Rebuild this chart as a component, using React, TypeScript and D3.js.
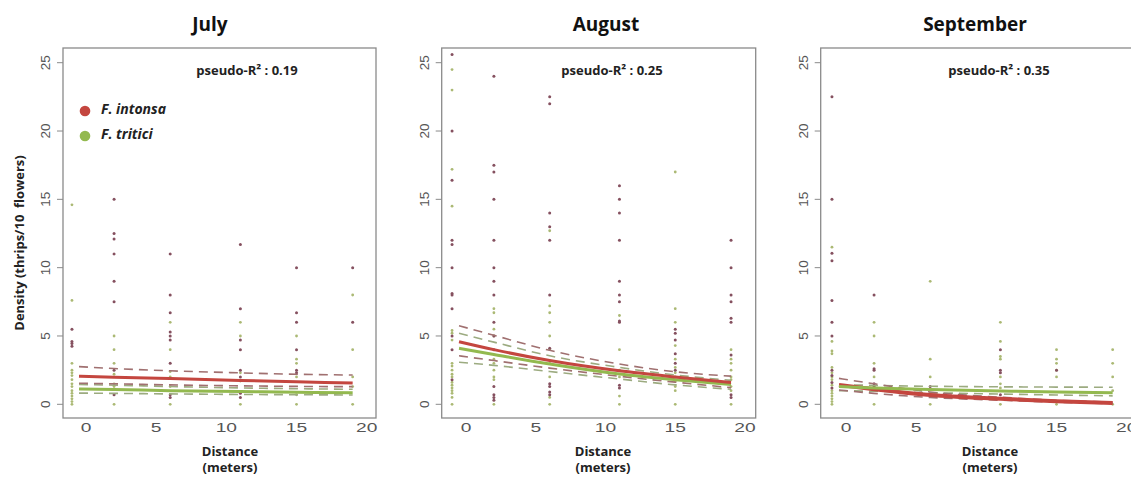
import React from "react";
import * as d3 from "d3";

// ---------- DATA ----------
const distances = [-1, 2, 6, 11, 15, 19];
const yTicks = [0, 5, 10, 15, 20, 25];
const xTicks = [0, 5, 10, 15, 20];
const months = ["July", "August", "September"];
const pseudoR2 = ["0.19", "0.25", "0.35"];
const species = ["F. intonsa", "F. tritici"];

// observed densities per distance (index matches `distances`)
const julyIntonsa = [
  [5.5, 4.6, 4.45, 4.25],
  [15, 12.5, 12.1, 11, 9, 7.5, 2.5, 0.7],
  [11, 8, 6.7, 5.3, 5, 4.7, 3, 0.7, 0.5],
  [11.7, 7, 4.7, 4, 2.5, 2, 0.8, 0.5],
  [10, 6.7, 6, 4, 2.5, 2.3],
  [10, 6],
];
const julyTritici = [
  [14.6, 7.6, 3, 2.5, 2.3, 2.1, 1.8, 1.5, 1.3, 1.0, 0.8, 0.6, 0.4, 0.2, 0],
  [5, 4, 3, 2.2, 1.5, 1.3, 0],
  [6, 4, 2.4, 2, 1.3, 0],
  [6, 5, 2.3, 1.7, 0],
  [5, 3.3, 3, 2, 0.7, 0],
  [8, 4, 2, 1.3, 0],
];
const augustIntonsa = [
  [25.6, 20, 16.4, 12, 11.7, 10, 8.1, 8, 7, 5, 4, 1.8],
  [24, 17.5, 17, 15, 12, 10, 9, 8, 6, 5, 4, 1.3, 0.7, 0.5, 0.3],
  [22.5, 22, 14, 13, 12, 8, 4.1, 1.5, 1.3, 0.9, 0.7],
  [16, 15, 14, 12, 9, 8, 7.5, 6.1, 6, 1.4, 1.2],
  [5.5, 5.2, 4.7, 3.7, 3, 2.5],
  [12, 10, 8, 7.5, 6.3, 6, 3.6, 0.7, 0.5],
];
const augustTritici = [
  [24.5, 23, 17.2, 14.5, 5.4, 5.2, 4.7, 3, 2.8, 2.5, 2.2, 2, 1.6, 1.4, 1.2, 1, 0.8, 0.5, 0],
  [7, 6.7, 5.5, 5, 3.3, 3, 2.5, 2, 1.8, 0],
  [12.7, 7.2, 6.7, 6, 5, 4, 3, 2, 0.5, 0],
  [6.5, 4, 2.5, 2, 0.6, 0],
  [17, 7, 6, 4.3, 3.3, 2.7, 2.3, 2, 1.7, 1.3, 1, 0],
  [4, 3.3, 3, 2.5, 2, 1.8, 1.3, 1, 0],
];
const septemberIntonsa = [
  [22.5, 15, 11.05, 10.5, 7.6, 6, 5, 2.5, 2.1, 1.6, 1.2],
  [8, 2.6, 2.5, 1.5, 1.3],
  [1.3],
  [4, 2.5, 2.3, 0.7],
  [2.5],
  [],
];
const septemberTritici = [
  [11.5, 4.6, 3.9, 3.7, 2.7, 2.3, 2.0, 1.8, 1.4, 1.0, 0.8, 0.6, 0.4, 0.2, 0],
  [6, 5, 3, 2, 1.0, 0],
  [9, 3.3, 2, 0],
  [6, 4.6, 3.5, 3.3, 2, 1.5, 1.2, 0],
  [4, 3.3, 3, 2.5, 2, 0],
  [4, 3, 2, 1, 0],
];

// fitted curves at these distances
const fitDistances = [-0.5, 2, 6, 11, 15, 19];
const julyFitIntonsa = [2.05, 1.98, 1.88, 1.75, 1.65, 1.55];
const julyFitIntonsaHi = [2.76, 2.62, 2.45, 2.3, 2.2, 2.14];
const julyFitIntonsaLo = [1.54, 1.5, 1.42, 1.35, 1.31, 1.29];
const julyFitTritici = [1.12, 1.08, 1.0, 0.93, 0.88, 0.85];
const julyFitTriticiHi = [1.45, 1.4, 1.3, 1.2, 1.14, 1.1];
const julyFitTriticiLo = [0.82, 0.8, 0.76, 0.72, 0.7, 0.68];

const augustFitIntonsa = [4.58, 4.0, 3.2, 2.45, 2.0, 1.6];
const augustFitIntonsaHi = [5.75, 5.05, 3.95, 2.95, 2.38, 2.06];
const augustFitIntonsaLo = [3.55, 3.2, 2.65, 2.05, 1.62, 1.22];
const augustFitTritici = [4.1, 3.65, 2.95, 2.22, 1.8, 1.45];
const augustFitTriticiHi = [5.2, 4.55, 3.55, 2.7, 2.15, 1.75];
const augustFitTriticiLo = [3.08, 2.85, 2.4, 1.85, 1.42, 1.1];

const septemberFitIntonsa = [1.42, 1.1, 0.68, 0.4, 0.22, 0.1];
const septemberFitIntonsaHi = [1.9, 1.5, 0.9, 0.52, 0.3, 0.15];
const septemberFitIntonsaLo = [1.05, 0.8, 0.5, 0.3, 0.15, 0.05];
const septemberFitTritici = [1.3, 1.2, 1.08, 0.97, 0.9, 0.85];
const septemberFitTriticiHi = [1.45, 1.38, 1.32, 1.28, 1.26, 1.25];
const septemberFitTriticiLo = [1.0, 0.95, 0.85, 0.75, 0.68, 0.62];

// ---------- LAYOUT / STYLE ----------
const W = 1131;
const H = 477;
const boxTop = 48;
const boxBottom = 418;
const RED = "#c4463f";
const GREEN = "#93b94f";
const RED_DASH = "#a07070";
const GREEN_DASH = "#9cab80";
const RED_PT = "#85505f";
const GREEN_PT = "#abb974";
const AXIS = "#8a8a8a";
const SANS = "'Open Sans', 'DejaVu Sans', sans-serif";
const ARIAL = "'Liberation Sans', Arial, sans-serif";

const layouts = [
  { left: 63, right: 376, x0: 86, x20: 366.7, titleX: 210, r2X: 247, labX: 230, intonsaW: 3 },
  { left: 441.7, right: 755.7, x0: 466, x20: 745, titleX: 606, r2X: 612, labX: 603, intonsaW: 3 },
  { left: 820.7, right: 1134.7, x0: 846, x20: 1126.7, titleX: 975, r2X: 999, labX: 990, intonsaW: 4 },
];

const panelData = [
  {
    intonsa: julyIntonsa, tritici: julyTritici,
    fits: [julyFitIntonsa, julyFitIntonsaHi, julyFitIntonsaLo, julyFitTritici, julyFitTriticiHi, julyFitTriticiLo],
  },
  {
    intonsa: augustIntonsa, tritici: augustTritici,
    fits: [augustFitIntonsa, augustFitIntonsaHi, augustFitIntonsaLo, augustFitTritici, augustFitTriticiHi, augustFitTriticiLo],
  },
  {
    intonsa: septemberIntonsa, tritici: septemberTritici,
    fits: [septemberFitIntonsa, septemberFitIntonsaHi, septemberFitIntonsaLo, septemberFitTritici, septemberFitTriticiHi, septemberFitTriticiLo],
  },
];

const y = d3.scaleLinear().domain([0, 25]).range([404.3, 62.7]);

function Panel({ i }: { i: number }) {
  const L = layouts[i];
  const P = panelData[i];
  const x = d3.scaleLinear().domain([0, 20]).range([L.x0, L.x20]);
  const line = d3
    .line<number>()
    .x((_, k) => x(fitDistances[k]))
    .y((v) => y(v))
    .curve(d3.curveMonotoneX);
  const [fI, fIH, fIL, fT, fTH, fTL] = P.fits;
  const dash = "9,6";
  return (
    <g>
      <text x={L.titleX} y={31} textAnchor="middle" fontFamily={SANS} fontWeight={700} fontSize={19} fill="#111">
        {months[i]}
      </text>
      <rect x={L.left} y={boxTop} width={L.right - L.left} height={boxBottom - boxTop} fill="#fff" stroke={AXIS} strokeWidth={1.3} />
      {yTicks.map((t) => (
        <g key={t}>
          <line x1={L.left - 6} x2={L.left} y1={y(t)} y2={y(t)} stroke={AXIS} strokeWidth={1} />
          <text
            transform={`translate(${L.left - 13},${y(t)}) rotate(-90)`}
            textAnchor="middle"
            fontFamily={ARIAL}
            fontSize={13.5}
            fill="#555"
          >
            {t}
          </text>
        </g>
      ))}
      {xTicks.map((t) => (
        <text
          key={t}
          transform={`translate(${x(t)},432) scale(1.6,1)`}
          textAnchor="middle"
          fontFamily={ARIAL}
          fontSize={12}
          fill="#555"
        >
          {t}
        </text>
      ))}
      <text x={L.r2X} y={75} textAnchor="middle" fontFamily={SANS} fontWeight={700} fontSize={13} fill="#222">
        pseudo-R² : {pseudoR2[i]}
      </text>
      {/* points */}
      {P.tritici.map((vals, k) =>
        vals.map((v, j) => <circle key={`t${k}-${j}`} cx={x(distances[k])} cy={y(v)} r={1.4} fill={GREEN_PT} />)
      )}
      {P.intonsa.map((vals, k) =>
        vals.map((v, j) => <circle key={`i${k}-${j}`} cx={x(distances[k])} cy={y(v)} r={1.5} fill={RED_PT} />)
      )}
      {/* confidence bands */}
      <path d={line(fTH) || ""} fill="none" stroke={GREEN_DASH} strokeWidth={1.6} strokeDasharray={dash} />
      <path d={line(fTL) || ""} fill="none" stroke={GREEN_DASH} strokeWidth={1.6} strokeDasharray={dash} />
      <path d={line(fIH) || ""} fill="none" stroke={RED_DASH} strokeWidth={1.6} strokeDasharray={dash} />
      <path d={line(fIL) || ""} fill="none" stroke={RED_DASH} strokeWidth={1.6} strokeDasharray={dash} />
      {/* fits */}
      {i === 2 ? (
        <>
          <path d={line(fI) || ""} fill="none" stroke={RED} strokeWidth={L.intonsaW} />
          <path d={line(fT) || ""} fill="none" stroke={GREEN} strokeWidth={3} />
        </>
      ) : (
        <>
          <path d={line(fT) || ""} fill="none" stroke={GREEN} strokeWidth={3} />
          <path d={line(fI) || ""} fill="none" stroke={RED} strokeWidth={L.intonsaW} />
        </>
      )}
      <text x={L.labX} y={456} textAnchor="middle" fontFamily={SANS} fontWeight={700} fontSize={13} fill="#222">
        Distance
      </text>
      <text x={L.labX} y={472} textAnchor="middle" fontFamily={SANS} fontWeight={700} fontSize={13} fill="#222">
        (meters)
      </text>
    </g>
  );
}

export default function App() {
  return (
    <svg width={W} height={H} style={{ position: "absolute", left: 0, top: 0, background: "#fff" }}>
      <rect x={0} y={0} width={W} height={H} fill="#fff" />
      {months.map((_, i) => (
        <Panel key={i} i={i} />
      ))}
      <text
        transform="translate(24,243) rotate(-90)"
        textAnchor="middle"
        fontFamily={SANS}
        fontWeight={700}
        fontSize={13}
        fill="#222"
      >
        {"Density (thrips/10\u00a0 flowers)"}
      </text>
      {/* legend */}
      <circle cx={85} cy={111} r={5.3} fill={RED} />
      <circle cx={85} cy={136} r={5.3} fill={GREEN} />
      <text x={101} y={114} fontFamily={SANS} fontWeight={700} fontStyle="italic" fontSize={14} fill="#222">
        {species[0]}
      </text>
      <text x={101} y={139} fontFamily={SANS} fontWeight={700} fontStyle="italic" fontSize={14} fill="#222">
        {species[1]}
      </text>
    </svg>
  );
}
